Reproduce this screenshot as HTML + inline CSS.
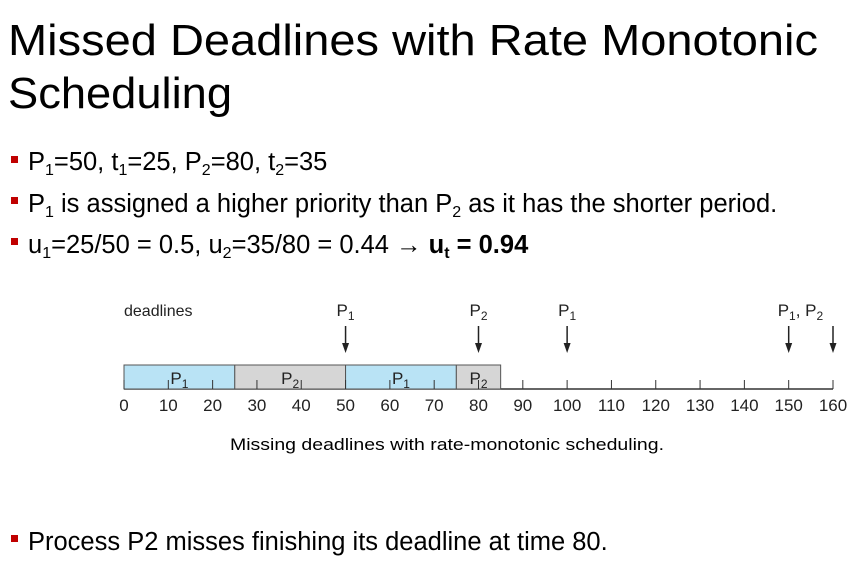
<!DOCTYPE html>
<html><head><meta charset="utf-8"><style>
html,body{margin:0;padding:0;background:#fff;}
svg{display:block;font-family:"Liberation Sans",sans-serif;}
.t{font-size:44px;fill:#000;}
.b{font-size:25.5px;fill:#000;}
.s{font-size:16px;}
</style></head><body>
<svg width="858" height="563" viewBox="0 0 858 563">
<text class="t" x="8" y="55" textLength="810" lengthAdjust="spacingAndGlyphs">Missed Deadlines with Rate Monotonic</text>
<text class="t" x="8" y="108" textLength="224" lengthAdjust="spacingAndGlyphs">Scheduling</text>

<rect x="11" y="156" width="7" height="7" fill="#c00000"/>
<text class="b" x="28" y="170">P<tspan class="s" dy="5">1</tspan><tspan dy="-5">=50, t</tspan><tspan class="s" dy="5">1</tspan><tspan dy="-5">=25, P</tspan><tspan class="s" dy="5">2</tspan><tspan dy="-5">=80, t</tspan><tspan class="s" dy="5">2</tspan><tspan dy="-5">=35</tspan></text>
<rect x="11" y="197" width="7" height="7" fill="#c00000"/>
<text class="b" x="28" y="212">P<tspan class="s" dy="5">1</tspan><tspan dy="-5"> is assigned a higher priority than P</tspan><tspan class="s" dy="5">2</tspan><tspan dy="-5"> as it has the shorter period.</tspan></text>
<rect x="11" y="238" width="7" height="7" fill="#c00000"/>
<text class="b" x="28" y="253">u<tspan class="s" dy="5">1</tspan><tspan dy="-5">=25/50 = 0.5, u</tspan><tspan class="s" dy="5">2</tspan><tspan dy="-5">=35/80 = 0.44 </tspan><tspan font-weight="bold">→ u</tspan><tspan class="s" font-weight="bold" dy="5">t</tspan><tspan dy="-5" font-weight="bold"> = 0.94</tspan></text>

<g id="chart"></g>

<text x="230" y="450" font-size="17" textLength="434" lengthAdjust="spacingAndGlyphs">Missing deadlines with rate-monotonic scheduling.</text>

<rect x="11" y="535" width="7" height="7" fill="#c00000"/>
<text class="b" x="28" y="550">Process P2 misses finishing its deadline at time 80.</text>
</svg>
<script>
const segStarts=[0,25,50,75];
const segEnds=[25,50,75,85];
const segProc=["1","2","1","2"];
const deadlineTimes=[50,80,100,150,160];
const deadlineLabels=["P1","P2","P1","P1, P2",""];
const tickValues=[0,10,20,30,40,50,60,70,80,90,100,110,120,130,140,150,160];
const NS="http://www.w3.org/2000/svg";
const chartG=document.getElementById('chart');
const axX0=124,axX1=833,tMax=160,barTop=365,barBase=389;
function sx(t){return axX0+(axX1-axX0)*t/tMax;}
function mk(tag,attrs,txt){const e=document.createElementNS(NS,tag);for(const k in attrs)e.setAttribute(k,attrs[k]);if(txt!==undefined)e.textContent=txt;chartG.appendChild(e);return e;}
function sub(el,main,s){el.textContent='';const a=document.createElementNS(NS,'tspan');a.textContent=main;el.appendChild(a);const b=document.createElementNS(NS,'tspan');b.setAttribute('font-size','12');b.setAttribute('dy','4');b.textContent=s;el.appendChild(b);}
let ax=mk('line',{x1:sx(0),y1:barBase,x2:sx(tMax),y2:barBase,stroke:'#333','stroke-width':1.5});


segStarts.forEach((s,i)=>{
 const r=mk('rect',{x:sx(s),y:barTop,width:sx(segEnds[i])-sx(s),height:barBase-barTop,fill:segProc[i]==="1"?'#b9e3f5':'#d6d6d6',stroke:'#555','stroke-width':1});
 
 
});
tickValues.forEach(v=>{
 const l=mk('line',{x1:sx(v),y1:barBase,x2:sx(v),y2:barBase-9,stroke:'#333','stroke-width':1});
 
 
 const t=mk('text',{x:sx(v),y:411,'text-anchor':'middle','font-size':17,fill:'#222'},String(v));
 
 
});
segStarts.forEach((s,i)=>{
 const tx=mk('text',{x:(sx(s)+sx(segEnds[i]))/2,y:barBase-5,'text-anchor':'middle','font-size':17,fill:'#222'});
 sub(tx,'P',segProc[i]);
 
 
});
const dl=mk('text',{x:124,y:316,'font-size':16,fill:'#222'},'deadlines');


deadlineTimes.forEach((d,i)=>{
 const x=sx(d);
 const ln=mk('line',{x1:x,y1:326,x2:x,y2:344,stroke:'#222','stroke-width':1.5});
 
 
 const hd=mk('polygon',{points:`${x-3.5},343 ${x+3.5},343 ${x},353`,fill:'#222'});
 
 
 const lab=deadlineLabels[i];
 if(lab){
  const t=mk('text',{x:x,y:316,'text-anchor':lab.length>2?'start':'middle','font-size':17,fill:'#222'});
  if(lab.length>2){t.setAttribute('x',x-11);t.textContent='';
   const parts=[['P',''],['1','s'],[', P',''],['2','s']];let up=false;
   parts.forEach(p=>{const ts=document.createElementNS(NS,'tspan');ts.textContent=p[0];if(p[1]){ts.setAttribute('font-size','12');ts.setAttribute('dy','4');up=true;}else if(up){ts.setAttribute('dy','-4');up=false;}t.appendChild(ts);});
  } else sub(t,'P',lab[1]);
  
  
 }
});
</script>
</body></html>
